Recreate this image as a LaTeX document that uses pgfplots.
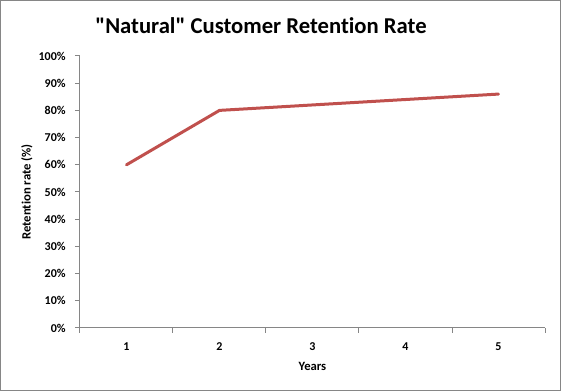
\documentclass[border=0pt]{standalone}
\usepackage{pgfplots}
\pgfplotsset{compat=1.18}
\usepackage{fontspec}
\setmainfont{Carlito}[Ligatures=NoCommon]
\definecolor{linered}{HTML}{C0504D}
\definecolor{axgray}{HTML}{868686}
\begin{document}
\begin{tikzpicture}
\useasboundingbox (0pt,0pt) rectangle (420.75pt,293.25pt);
\draw[color=axgray, line width=0.75pt] (0.375pt,0.375pt) rectangle (420.375pt,292.875pt);
\begin{axis}[
  at={(60pt,47.25pt)}, anchor=south west,
  scale only axis, width=348.75pt, height=204pt,
  xmin=0.5, xmax=5.5, ymin=0, ymax=100,
  axis x line*=bottom, axis y line*=left,
  axis line style={axgray, line width=0.75pt, -},
  tick style={axgray, line width=0.75pt},
  tick align=outside, major tick length=3.75pt,
  xtick={0.5,1.5,2.5,3.5,4.5,5.5},
  xticklabels={1,2,3,4,5,{}},
  xticklabel style={xshift=34.875pt, yshift=-3.5pt},
  ytick={0,10,...,100},
  yticklabel={\pgfmathprintnumber{\tick}\%},
  yticklabel style={xshift=-3.5pt},
  /pgf/number format/assume math mode=true,
  tick label style={font=\bfseries\fontsize{9}{10}\selectfont, text=black},
  xlabel={Years}, ylabel={Retention rate (\%)},
  label style={font=\bfseries\fontsize{9.5}{10}\selectfont},
  xlabel style={at={(axis description cs:0.5,-0.14)}, anchor=center},
  ylabel style={at={(axis description cs:-0.114,0.5)}, anchor=center},
  clip=false,
]
\addplot[color=linered, line width=2.25pt, line cap=round, line join=round] coordinates {
  (1,60) (2,80) (3,82) (4,84) (5,86)
};
\end{axis}
\node[font=\bfseries\fontsize{17}{21}\selectfont] at (195.75pt,274pt) {\textquotedbl Natural\textquotedbl{} Customer Retention Rate};
\end{tikzpicture}
\end{document}
